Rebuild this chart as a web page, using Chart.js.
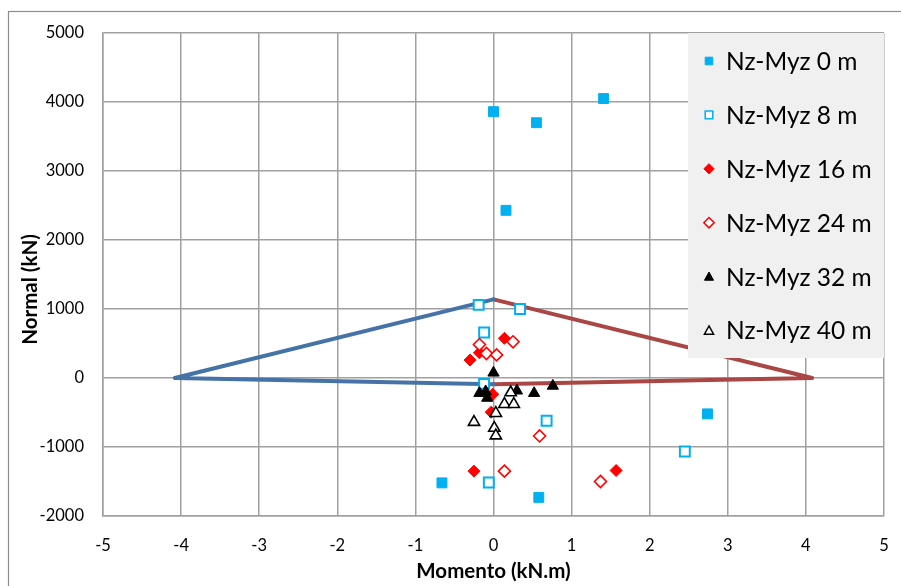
<!DOCTYPE html>
<html><head><meta charset="utf-8">
<script src="https://cdn.jsdelivr.net/npm/chart.js@4/dist/chart.umd.min.js"></script>
<style>html,body{margin:0;padding:0;background:#fff}#wrap{width:901px;height:586px}</style>
</head><body><div id="wrap"><canvas id="c" width="901" height="586"></canvas></div>
<script>
// ---- data ----
const seriesLabels = ['Nz-Myz 0 m','Nz-Myz 8 m','Nz-Myz 16 m','Nz-Myz 24 m','Nz-Myz 32 m','Nz-Myz 40 m'];

const m0_M  = [0.00, 0.55, 1.41, 0.16, 2.74, -0.66, 0.58];
const m0_N  = [3860, 3700, 4050, 2430, -520, -1520, -1730];

const m8_M  = [-0.19, 0.34, -0.12, -0.12, 0.68, 2.45, -0.06];
const m8_N  = [1060, 1000, 660, -85, -620, -1065, -1515];

const m16_M = [0.14, -0.18, -0.30, -0.01, -0.03, -0.25, 1.57];
const m16_N = [575, 365, 260, -235, -495, -1350, -1340];

const m24_M = [-0.18, -0.09, 0.04, 0.25, 0.59, 0.14, 1.37];
const m24_N = [485, 355, 335, 525, -840, -1350, -1500];

const m32_M = [0.00, -0.18, -0.10, -0.08, 0.30, 0.52, 0.76];
const m32_N = [75, -220, -195, -290, -185, -220, -115];

const m40_M = [0.22, 0.14, 0.26, 0.03, -0.25, 0.01, 0.03];
const m40_N = [-210, -380, -380, -510, -640, -725, -835];

const envLeft_M  = [0, -4.08, 0];
const envLeft_N  = [1140, 0, -90];
const envRight_M = [0, 4.08, 0];
const envRight_N = [1140, 0, -90];

const xTicks = [-5,-4,-3,-2,-1,0,1,2,3,4,5];
const yTicks = [-2000,-1000,0,1000,2000,3000,4000,5000];

// ---- build ----
const pts = (xs, ys) => xs.map((x, i) => ({x, y: ys[i]}));
const FONT = "Lato, 'Open Sans', sans-serif";

const styles = [
  {style:'rect',     r:7,   fill:'#00B0F0', stroke:'#00B0F0', bw:1, open:false},
  {style:'rect',     r:7,   fill:'#ffffff', stroke:'#00B0F0', bw:2, open:true},
  {style:'rectRot',  r:6,   fill:'#FF0000', stroke:'#FF0000', bw:1, open:false},
  {style:'rectRot',  r:6,   fill:'#ffffff', stroke:'#FF0000', bw:1.6, open:true},
  {style:'triangle', r:6.5, fill:'#000000', stroke:'#000000', bw:1, open:false},
  {style:'triangle', r:6.5, fill:'#ffffff', stroke:'#000000', bw:1.6, open:true}
];
const seriesData = [pts(m0_M,m0_N), pts(m8_M,m8_N), pts(m16_M,m16_N), pts(m24_M,m24_N), pts(m32_M,m32_N), pts(m40_M,m40_N)];

const datasets = seriesData.map((d, i) => ({
  label: seriesLabels[i],
  data: d,
  showLine: false,
  pointStyle: styles[i].style,
  pointRadius: styles[i].r,
  pointHoverRadius: styles[i].r,
  pointBackgroundColor: styles[i].fill,
  pointBorderColor: styles[i].stroke,
  pointBorderWidth: styles[i].bw,
  order: 6 - i,
  isSeries: true
}));
datasets.push({label:'envL', data: pts(envLeft_M, envLeft_N), showLine:true, borderColor:'#4572A7', borderWidth:4, borderJoinStyle:'round', borderCapStyle:'round', pointRadius:0, fill:false, order:10});
datasets.push({label:'envR', data: pts(envRight_M, envRight_N), showLine:true, borderColor:'#AA4643', borderWidth:4, borderJoinStyle:'round', borderCapStyle:'round', pointRadius:0, fill:false, order:11});

const outerBorder = {
  id:'outerBorder',
  beforeDraw(chart){
    const ctx = chart.ctx;
    ctx.save();
    ctx.fillStyle = '#fff';
    ctx.fillRect(0,0,chart.width,chart.height);
    ctx.strokeStyle = '#8c8c8c';
    ctx.lineWidth = 1.2;
    ctx.strokeRect(8.5, 11.5, 1200, 1200);
    ctx.restore();
  }
};

function drawMarker(ctx, st, x, y, s) {
  ctx.beginPath();
  if (st.style === 'rect') {
    ctx.rect(x - s, y - s, 2*s, 2*s);
  } else if (st.style === 'rectRot') {
    const d = s * 1.35;
    ctx.moveTo(x, y - d); ctx.lineTo(x + d, y); ctx.lineTo(x, y + d); ctx.lineTo(x - d, y); ctx.closePath();
  } else {
    const h = s * 1.2;
    ctx.moveTo(x, y - h); ctx.lineTo(x + h, y + h*0.8); ctx.lineTo(x - h, y + h*0.8); ctx.closePath();
  }
  ctx.fillStyle = st.fill; ctx.fill();
  ctx.strokeStyle = st.stroke; ctx.lineWidth = st.open ? 1.5 : 1; ctx.stroke();
}

const boxLegend = {
  id:'boxLegend',
  afterDatasetsDraw(chart){
    const ctx = chart.ctx;
    ctx.save();
    ctx.fillStyle = '#f0f0f0';
    ctx.fillRect(688, 33, 196, 325);
    ctx.font = "24.5px " + FONT;
    ctx.textBaseline = 'middle';
    ctx.textAlign = 'left';
    const ds = chart.data.datasets.filter(d => d.isSeries);
    ds.forEach((d, i) => {
      const y = 61 + i * 53.9;
      drawMarker(ctx, styles[i], 709, y, 3.8);
      ctx.fillStyle = '#000';
      ctx.fillText(d.label, 726, y + 1);
    });
    ctx.restore();
  }
};

const gridColor = '#a0a0a0';
new Chart(document.getElementById('c'), {
  type: 'scatter',
  data: { datasets },
  plugins: [outerBorder, boxLegend],
  options: {
    responsive: false,
    animation: false,
    devicePixelRatio: 1,
    layout: { padding: { left: 0, top: 33, right: 17, bottom: 0 } },
    plugins: { legend: { display: false }, tooltip: { enabled: false } },
    scales: {
      x: {
        type: 'linear', min: -5, max: 5,
        afterBuildTicks: s => { s.ticks = xTicks.map(v => ({value: v})); },
        afterFit: s => { s.height = 70; },
        ticks: { color: '#000', font: { family: FONT, size: 16.5 }, padding: 0, callback: v => String(v) },
        grid: { color: gridColor, lineWidth: 1.5, drawTicks: true, tickLength: 20, tickColor: 'rgba(0,0,0,0)' },
        border: { color: gridColor, width: 1.5 },
        title: { display: true, text: 'Momento (kN.m)', color: '#000', font: { family: FONT, size: 20.5, weight: 'bold' }, padding: { top: 0, bottom: 2 } }
      },
      y: {
        type: 'linear', min: -2000, max: 5000,
        afterBuildTicks: s => { s.ticks = yTicks.map(v => ({value: v})); },
        afterFit: s => { s.width = 103; },
        ticks: { color: '#000', font: { family: FONT, size: 16.5 }, padding: 19, callback: v => String(v) },
        grid: { color: gridColor, lineWidth: 1.5, drawTicks: false },
        border: { color: gridColor, width: 1.5 },
        title: { display: true, text: 'Normal (kN)      ', color: '#000', font: { family: FONT, size: 20.5, weight: 'bold' }, padding: { top: 18, bottom: 0 } }
      }
    }
  }
});
</script></body></html>
